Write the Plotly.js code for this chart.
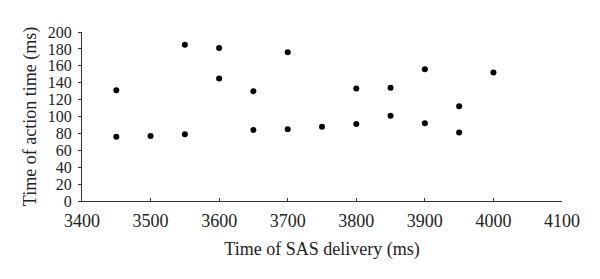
<!DOCTYPE html>
<html>
<head>
<meta charset="utf-8">
<script src="https://cdn.plot.ly/plotly-3.0.1.min.js"></script>
<style>html,body{margin:0;padding:0;background:#fff;}#chart{width:600px;height:279px;}</style>
</head>
<body>
<div id="chart"></div>
<script>
const deliveryTime = [3450, 3450, 3500, 3550, 3550, 3600, 3600, 3650, 3650, 3700, 3700, 3750, 3800, 3800, 3850, 3850, 3900, 3900, 3950, 3950, 4000];
const actionTime   = [131, 76, 77, 185, 79, 181, 145, 130, 84, 176, 85, 88, 133, 91, 134, 101, 156, 92, 112, 81, 152];
const xTicks = [3400, 3500, 3600, 3700, 3800, 3900, 4000, 4100];
const yTicks = [0, 20, 40, 60, 80, 100, 120, 140, 160, 180, 200];

const font = {family: 'Liberation Serif, Times New Roman, serif', size: 18, color: '#222'};
const yTickFont = {family: 'Liberation Serif, Times New Roman, serif', size: 16, color: '#222'};
Plotly.newPlot('chart', [{
  x: deliveryTime, y: actionTime, type: 'scatter', mode: 'markers',
  marker: {color: '#000', size: 6}
}], {
  width: 600, height: 279,
  margin: {l: 82, r: 38, t: 32, b: 78},
  paper_bgcolor: '#fff', plot_bgcolor: '#fff',
  showlegend: false,
  font: font,
  xaxis: {
    range: [3400, 4100], tickvals: xTicks, ticktext: xTicks.map(String),
    showgrid: false, zeroline: false, showline: true, linecolor: '#333', linewidth: 1,
    ticks: 'inside', ticklen: 3, tickcolor: '#333',
    tickfont: font, ticklabelstandoff: 3,
    title: {text: 'Time of SAS delivery (ms)', font: font, standoff: 12}
  },
  yaxis: {
    range: [0, 200], tickvals: yTicks, ticktext: yTicks.map(String),
    showgrid: false, zeroline: false, showline: true, linecolor: '#333', linewidth: 1,
    ticks: 'outside', ticklen: 3, tickcolor: '#333',
    tickfont: yTickFont, ticklabelstandoff: 3,
    title: {text: 'Time of action time (ms)', font: font, standoff: 6}
  }
}, {staticPlot: true});
</script>
</body>
</html>
